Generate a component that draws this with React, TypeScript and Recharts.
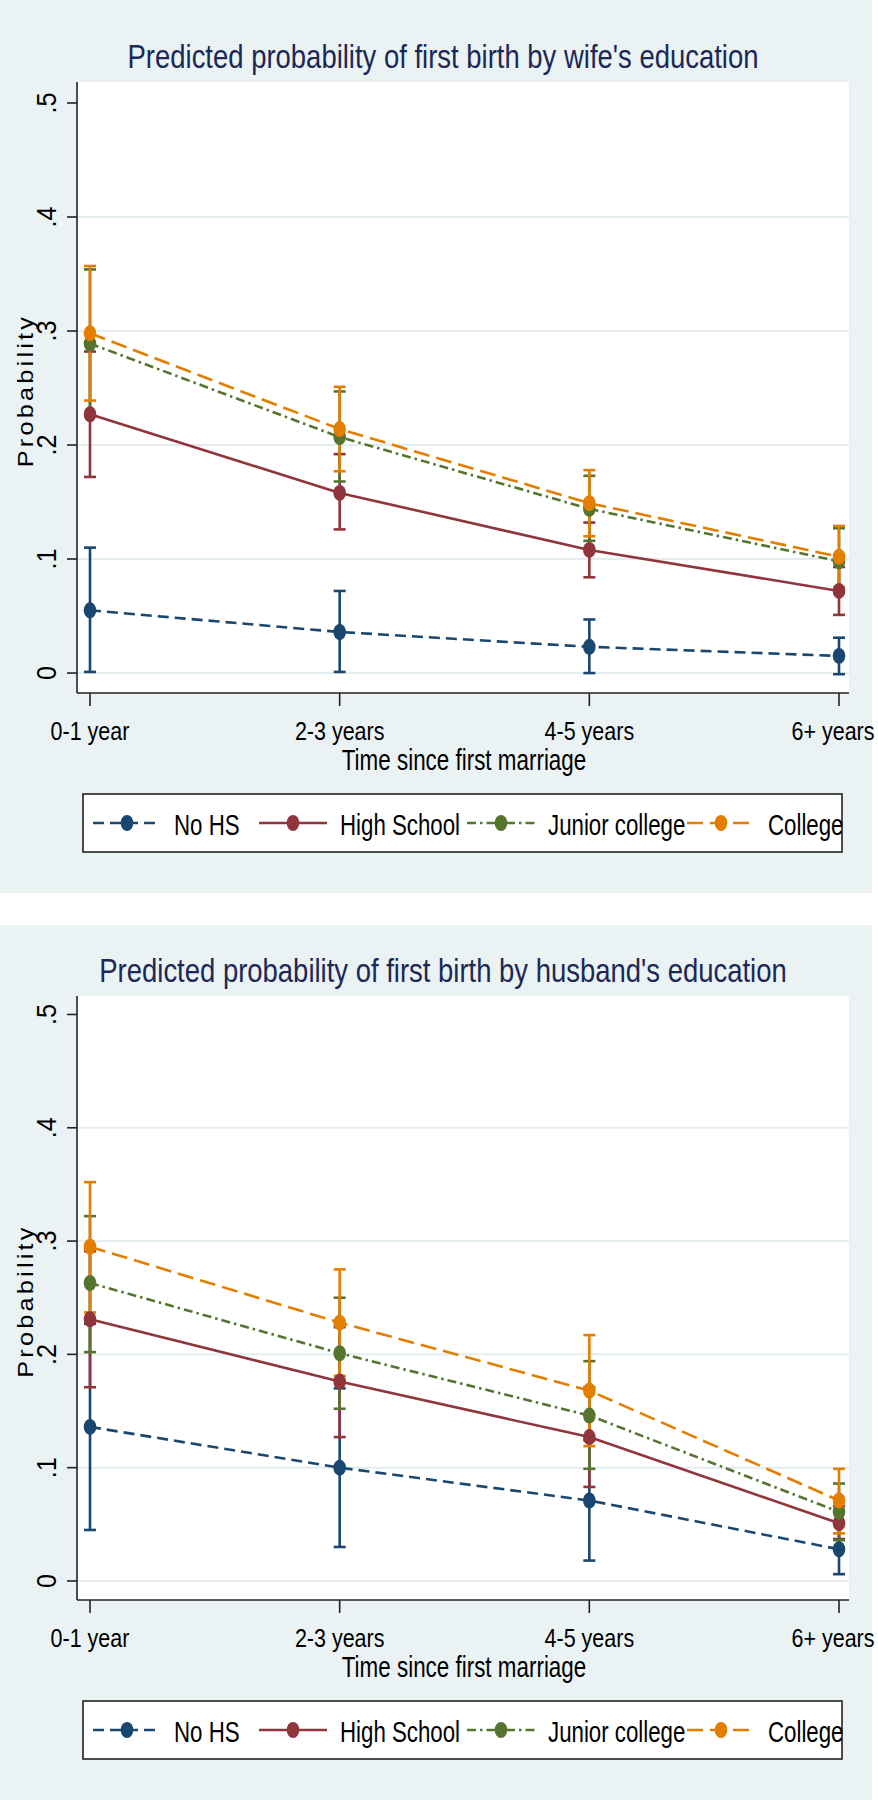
import React from 'react';
import { LineChart, Line, XAxis, YAxis, CartesianGrid, ErrorBar } from 'recharts';

// ---------- data ----------
const categories = ['0-1 year', '2-3 years', '4-5 years', '6+ years'];
const yTicks = [0, 0.1, 0.2, 0.3, 0.4, 0.5];
const yTickLabels = ['0', '.1', '.2', '.3', '.4', '.5'];
const gridValues = [0, 0.1, 0.2, 0.3, 0.4];
const seriesNames = ['No HS', 'High School', 'Junior college', 'College'];

// wife's education
const wifeNoHS = [0.055, 0.036, 0.023, 0.015];
const wifeNoHSLo = [0.001, 0.001, 0.0, -0.001];
const wifeNoHSHi = [0.11, 0.072, 0.047, 0.031];
const wifeHS = [0.227, 0.158, 0.108, 0.072];
const wifeHSLo = [0.172, 0.126, 0.084, 0.051];
const wifeHSHi = [0.282, 0.192, 0.132, 0.093];
const wifeJC = [0.289, 0.207, 0.144, 0.098];
const wifeJCLo = [0.225, 0.168, 0.116, 0.07];
const wifeJCHi = [0.354, 0.247, 0.173, 0.127];
const wifeCol = [0.298, 0.214, 0.149, 0.102];
const wifeColLo = [0.239, 0.177, 0.12, 0.075];
const wifeColHi = [0.357, 0.251, 0.178, 0.129];

// husband's education
const husNoHS = [0.136, 0.1, 0.071, 0.028];
const husNoHSLo = [0.045, 0.03, 0.018, 0.006];
const husNoHSHi = [0.227, 0.17, 0.124, 0.05];
const husHS = [0.231, 0.176, 0.127, 0.051];
const husHSLo = [0.171, 0.127, 0.083, 0.037];
const husHSHi = [0.291, 0.224, 0.171, 0.066];
const husJC = [0.263, 0.201, 0.146, 0.061];
const husJCLo = [0.202, 0.152, 0.099, 0.036];
const husJCHi = [0.322, 0.25, 0.194, 0.086];
const husCol = [0.295, 0.228, 0.168, 0.071];
const husColLo = [0.237, 0.181, 0.119, 0.042];
const husColHi = [0.352, 0.275, 0.217, 0.099];

// ---------- styles ----------
const FONT = '"Liberation Sans", Arial, Helvetica, sans-serif';
const COLORS = ['#1A476F', '#90353B', '#55752F', '#E37E00'];
const DASHES: (string | undefined)[] = ['11 6', undefined, '9 4 2.5 4', '16 7'];
const KEYS = ['noHS', 'hs', 'jc', 'col'];
const BG = '#EAF2F3';
const GRID = '#E3EDF0';
const AXIS = '#222';
const TITLE_COLOR = '#1C2857';
const LEGEND_KEY_X = [93, 259, 467, 687];
const CHART_W = 878;
const RIGHT_LIMIT = 876;

type Est = { mid: number[]; lo: number[]; hi: number[] };

function buildRows(series: Est[]) {
  return categories.map((cat, i) => {
    const row: any = { cat };
    series.forEach((s, k) => {
      row[KEYS[k]] = s.mid[i];
      row[KEYS[k] + 'Err'] = [s.mid[i] - s.lo[i], s.hi[i] - s.mid[i]];
    });
    return row;
  });
}

const wifeRows = buildRows([
  { mid: wifeNoHS, lo: wifeNoHSLo, hi: wifeNoHSHi },
  { mid: wifeHS, lo: wifeHSLo, hi: wifeHSHi },
  { mid: wifeJC, lo: wifeJCLo, hi: wifeJCHi },
  { mid: wifeCol, lo: wifeColLo, hi: wifeColHi },
]);

const husRows = buildRows([
  { mid: husNoHS, lo: husNoHSLo, hi: husNoHSHi },
  { mid: husHS, lo: husHSLo, hi: husHSHi },
  { mid: husJC, lo: husJCLo, hi: husJCHi },
  { mid: husCol, lo: husColLo, hi: husColHi },
]);

function yLabelFor(v: number) {
  let best = 0;
  yTicks.forEach((t, i) => {
    if (Math.abs(t - v) < Math.abs(yTicks[best] - v)) best = i;
  });
  return yTickLabels[best];
}

const makeDot = (color: string) => (p: any) => (
  <ellipse key={`dot-${p.index}`} cx={p.cx} cy={p.cy} rx={6.3} ry={8} fill={color} />
);

// x tick label: scaled Arial-like narrow text; kept inside the page's right edge
const X_TICK_FS = 25.6;
const X_TICK_SX = 0.84;
function XTickLabel({ x, y, value, index }: any) {
  const approxHalf = (String(value).length * 0.5 * X_TICK_FS * X_TICK_SX) / 2;
  const cx = Math.min(x, RIGHT_LIMIT - approxHalf);
  return (
    <text
      key={`xt-${index}`}
      transform={`translate(${cx}, ${y}) scale(${X_TICK_SX}, 1)`}
      textAnchor="middle"
      fontFamily={FONT}
      fontSize={X_TICK_FS}
      fill="#000"
    >
      {value}
    </text>
  );
}

type PanelProps = {
  title: string;
  rows: any[];
  top: number;
  height: number;
  plotTop: number;
  plotBottom: number;
  domain: [number, number];
};

function Panel({ title, rows, top, height, plotTop, plotBottom, domain }: PanelProps) {
  const chartH = plotBottom + 67;
  const plotCenter = (plotTop + plotBottom) / 2;
  const legendTop = plotBottom + 101;
  const legendMid = plotBottom + 130;
  return (
    <div style={{ position: 'absolute', left: 0, top, width: CHART_W, height }}>
      <div style={{ position: 'absolute', left: 0, top: 0, width: 872, height, background: BG }} />
      <div style={{ position: 'absolute', left: 0, top: 0 }}>
        <LineChart
          width={CHART_W}
          height={chartH}
          data={rows}
          margin={{ top: plotTop, right: 29, bottom: 0, left: 0 }}
        >
          <CartesianGrid
            vertical={false}
            horizontal
            horizontalValues={gridValues}
            stroke={GRID}
            strokeWidth={2}
            fill="#ffffff"
          />
          <XAxis
            dataKey="cat"
            type="category"
            padding={{ left: 13, right: 10 }}
            height={67}
            tickSize={13}
            interval={0}
            axisLine={{ stroke: AXIS, strokeWidth: 1.6 }}
            tickLine={{ stroke: AXIS, strokeWidth: 1.6 }}
            tick={(p: any) => (
              <XTickLabel key={`xt-${p.index}`} x={p.x} y={plotBottom + 47} value={p.payload.value} index={p.index} />
            )}
          />
          <YAxis
            type="number"
            domain={domain}
            allowDataOverflow
            ticks={yTicks}
            width={77}
            tickSize={10}
            axisLine={{ stroke: AXIS, strokeWidth: 1.6 }}
            tickLine={{ stroke: AXIS, strokeWidth: 1.6 }}
            tick={(p: any) => (
              <text
                key={`yt-${p.index}`}
                transform={`translate(56, ${p.y}) rotate(-90) scale(0.9, 1)`}
                textAnchor="middle"
                fontFamily={FONT}
                fontSize={28}
                fill="#000"
              >
                {yLabelFor(p.payload.value)}
              </text>
            )}
          />
          {KEYS.map((k, i) => (
            <Line
              key={k}
              type="linear"
              dataKey={k}
              stroke={COLORS[i]}
              strokeWidth={2.6}
              strokeDasharray={DASHES[i]}
              dot={makeDot(COLORS[i])}
              activeDot={false}
              isAnimationActive={false}
            >
              <ErrorBar
                dataKey={k + 'Err'}
                width={6}
                stroke={COLORS[i]}
                strokeWidth={2.6}
                direction="y"
                isAnimationActive={false}
              />
            </Line>
          ))}
        </LineChart>
      </div>
      <svg
        width={CHART_W}
        height={height}
        style={{ position: 'absolute', left: 0, top: 0, pointerEvents: 'none' }}
      >
        <text
          transform={`translate(443, ${plotTop - 14}) scale(0.845, 1)`}
          textAnchor="middle"
          fontFamily={FONT}
          fontSize={32.5}
          fill={TITLE_COLOR}
        >
          {title}
        </text>
        <text
          transform={`translate(33, ${plotCenter + 3}) rotate(-90) scale(1.15, 1)`}
          textAnchor="middle"
          fontFamily={FONT}
          fontSize={22}
          letterSpacing={2.8}
          fill="#000"
        >
          Probability
        </text>
        <text
          transform={`translate(464, ${plotBottom + 77}) scale(0.74, 1)`}
          textAnchor="middle"
          fontFamily={FONT}
          fontSize={30.3}
          fill="#000"
        >
          Time since first marriage
        </text>
        <rect x={83} y={legendTop} width={759} height={58} fill="#ffffff" stroke={AXIS} strokeWidth={1.6} />
        {seriesNames.map((name, i) => {
          const kx = LEGEND_KEY_X[i];
          return (
            <g key={name}>
              <line
                x1={kx}
                x2={kx + 68}
                y1={legendMid}
                y2={legendMid}
                stroke={COLORS[i]}
                strokeWidth={2.6}
                strokeDasharray={DASHES[i]}
              />
              <ellipse cx={kx + 34} cy={legendMid} rx={6.3} ry={8} fill={COLORS[i]} />
              <text
                transform={`translate(${kx + 81}, ${plotBottom + 142}) scale(0.735, 1)`}
                fontFamily={FONT}
                fontSize={30.3}
                fill="#000"
              >
                {name}
              </text>
            </g>
          );
        })}
      </svg>
    </div>
  );
}

export default function App() {
  return (
    <div style={{ position: 'absolute', left: 0, top: 0, width: CHART_W, height: 1800, background: '#ffffff' }}>
      <Panel
        title="Predicted probability of first birth by wife's education"
        rows={wifeRows}
        top={0}
        height={893}
        plotTop={82}
        plotBottom={693}
        domain={[-0.0175, 0.5184]}
      />
      <Panel
        title="Predicted probability of first birth by husband's education"
        rows={husRows}
        top={925}
        height={875}
        plotTop={71}
        plotBottom={675}
        domain={[-0.0168, 0.5163]}
      />
    </div>
  );
}
